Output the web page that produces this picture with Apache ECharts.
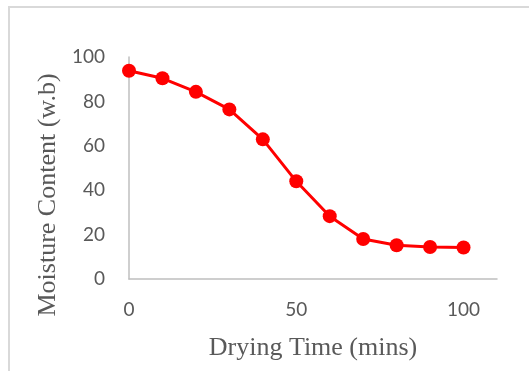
<!DOCTYPE html>
<html>
<head>
<meta charset="utf-8">
<script src="https://cdn.jsdelivr.net/npm/echarts@6/dist/echarts.min.js"></script>
<style>
  html, body { margin: 0; padding: 0; background: #fff; }
  #chart { width: 529px; height: 371px; }
</style>
</head>
<body>
<div id="chart"></div>
<script>
// drying time in minutes
const dryingTime = [0, 10, 20, 30, 40, 50, 60, 70, 80, 90, 100];
// moisture content (wet basis)
const moisture = [93.8, 90.4, 84.3, 76.4, 62.9, 44, 28.3, 18.0, 15.2, 14.4, 14.2];

const chart = echarts.init(document.getElementById("chart"));

const labelFont = {
  fontFamily: "Lato",
  fontSize: 19,
  color: "#595959",
};
const nameFont = {
  fontFamily: "Liberation Serif",
  fontSize: 26,
  color: "#595959",
};

const option = {
  animation: false,
  graphic: [
    {
      type: "rect",
      shape: { x: 9, y: 7, width: 600, height: 400 },
      style: { fill: "none", stroke: "#d9d9d9", lineWidth: 2 },
      silent: true,
    },
  ],
  grid: {
    left: 129,
    right: 32,
    top: 57,
    bottom: 92,
  },
  xAxis: {
    type: "value",
    min: 0,
    max: 110,
    interval: 50,
    name: "Drying Time (mins)",
    nameLocation: "middle",
    nameGap: 56,
    nameTextStyle: nameFont,
    splitLine: { show: false },
    axisTick: { show: false },
    axisLine: { show: true, onZero: false, lineStyle: { color: "#bfbfbf", width: 1.5 } },
    axisLabel: {
      ...labelFont,
      margin: 21,
      showMaxLabel: false,
    },
  },
  yAxis: {
    type: "value",
    min: 0,
    max: 100,
    interval: 20,
    name: "Moisture Content (w.b)",
    nameLocation: "middle",
    nameGap: 68,
    nameTextStyle: { ...nameFont, padding: [0, 54, 0, 0] },
    splitLine: { show: false },
    axisTick: { show: false },
    axisLine: { show: true, lineStyle: { color: "#bfbfbf", width: 1.5 } },
    axisLabel: {
      ...labelFont,
      margin: 24,
    },
  },
  series: [
    {
      type: "line",
      data: dryingTime.map((t, i) => [t, moisture[i]]),
      symbol: "circle",
      symbolSize: 14,
      itemStyle: { color: "#ff0000" },
      lineStyle: { color: "#ff0000", width: 3 },
    },
  ],
};

chart.setOption(option);
</script>
</body>
</html>
